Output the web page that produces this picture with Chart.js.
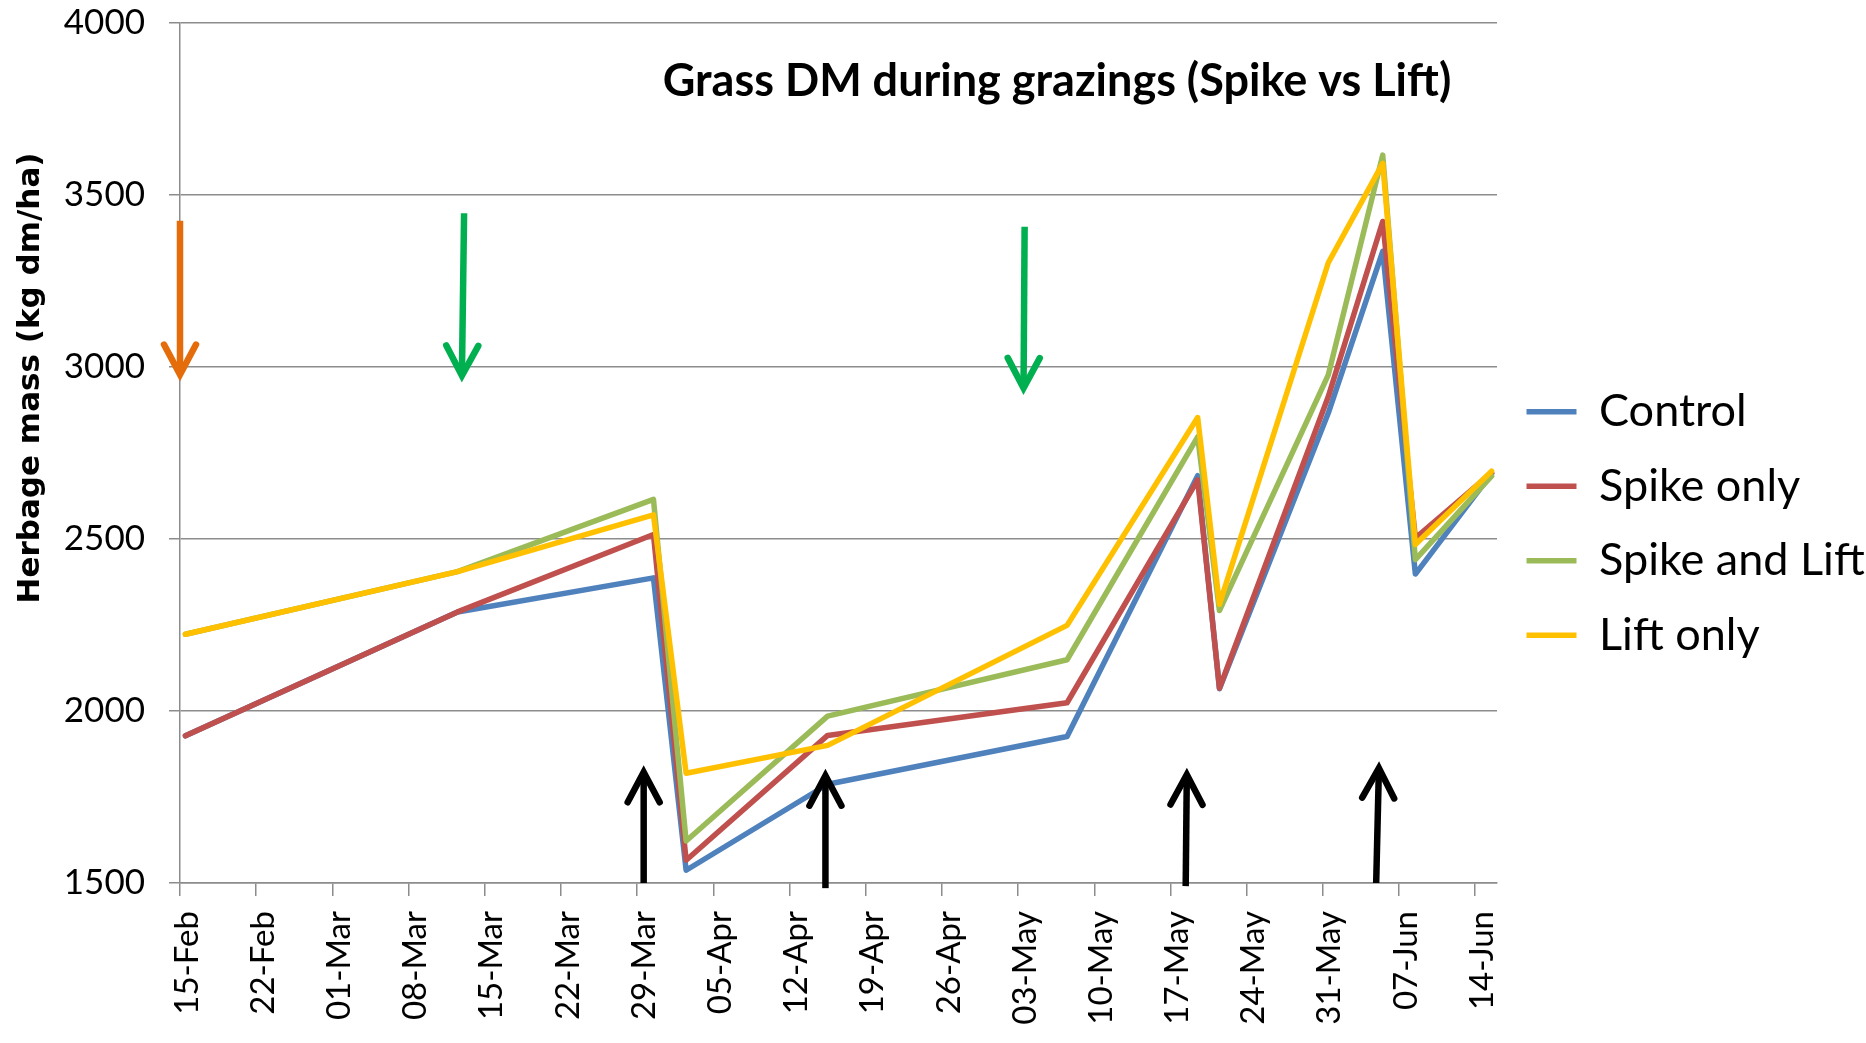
<!DOCTYPE html>
<html>
<head>
<meta charset="utf-8">
<title>Grass DM during grazings (Spike vs Lift)</title>
<script src="https://cdn.jsdelivr.net/npm/chart.js@4.4.1/dist/chart.umd.min.js"></script>
<style>
  html, body { margin: 0; padding: 0; background: #fff; }
  #wrap { width: 1866px; height: 1043px; }
</style>
</head>
<body>
<div id="wrap"><canvas id="grassChart" width="1866" height="1043"></canvas></div>
<script>
// sampling dates (measurement days)
const sampleDates = ['15-Feb', '12-Mar', '30-Mar', '02-Apr', '15-Apr', '07-May',
                     '19-May', '21-May', '31-May', '05-Jun', '08-Jun', '15-Jun'];

// herbage mass, kg dm/ha
const control      = [1928, 2288, 2387, 1537, 1787, 1926, 2684, 2065, 2866, 3336, 2398, 2690];
const spikeOnly    = [1928, 2288, 2513, 1566, 1929, 2024, 2672, 2066, 2914, 3423, 2503, 2692];
const spikeAndLift = [2223, 2405, 2615, 1622, 1985, 2149, 2797, 2292, 2977, 3616, 2440, 2683];
const liftOnly     = [2223, 2405, 2570, 1819, 1900, 2249, 2853, 2310, 3303, 3592, 2484, 2697];

const seriesNames = ['Control', 'Spike only', 'Spike and Lift', 'Lift only'];
const seriesColours = ['#4F81BD', '#C0504D', '#9BBB59', '#FFC000'];

// x axis: weekly ticks from 15-Feb
const tickLabels = ['15-Feb', '22-Feb', '01-Mar', '08-Mar', '15-Mar', '22-Mar', '29-Mar',
                    '05-Apr', '12-Apr', '19-Apr', '26-Apr', '03-May', '10-May', '17-May',
                    '24-May', '31-May', '07-Jun', '14-Jun'];
const yTicks = [1500, 2000, 2500, 3000, 3500, 4000];

// event arrows (days after 15-Feb, kg dm/ha)
const arrowTailDays   = [0, 26.1, 77.6, 42.6, 59.3, 92.4, 109.9];
const arrowTipDays    = [0, 25.9, 77.5, 42.6, 59.3, 92.5, 110.15];
const arrowTailValues = [3425, 3447, 3408, 1500, 1485, 1491, 1500];
const arrowTipValues  = [2978, 2975, 2939, 1822, 1812, 1815, 1834];
const arrowColours    = ['#E46C0A', '#00B050', '#00B050', '#000000', '#000000', '#000000', '#000000'];

const GRID = '#8c8c8c';
const monthStart = { Feb: -15, Mar: 13, Apr: 44, May: 74, Jun: 105 };

// days after 15-Feb, plotted at mid-day like the spreadsheet date axis
function dayPos(label) {
    const [d, m] = label.split('-');
    return monthStart[m] + Number(d) + 0.5;
}

const allSeries = [control, spikeOnly, spikeAndLift, liftOnly];

const datasets = allSeries.map((values, i) => ({
    label: seriesNames[i],
    data: values.map((v, j) => ({ x: dayPos(sampleDates[j]), y: v })),
    borderColor: seriesColours[i],
    backgroundColor: seriesColours[i],
    borderWidth: 5.5,
    borderJoinStyle: 'round',
    borderCapStyle: 'round',
    pointRadius: 0,
    tension: 0,
    order: allSeries.length - i // Lift only ends up on top
}));

// arrows, the in-plot title and the y axis title
const overlayPlugin = {
    id: 'overlay',
    afterDatasetsDraw(chart) {
        const { ctx, chartArea, scales: { x, y } } = chart;
        ctx.save();

        arrowTipDays.forEach((day, i) => {
            const x0 = x.getPixelForValue(arrowTailDays[i]);
            const y0 = y.getPixelForValue(arrowTailValues[i]);
            const x1 = x.getPixelForValue(day);
            const y1 = y.getPixelForValue(arrowTipValues[i]);
            const len = Math.hypot(x1 - x0, y1 - y0);
            const ux = (x1 - x0) / len, uy = (y1 - y0) / len;
            ctx.strokeStyle = arrowColours[i];
            ctx.lineWidth = 6.5;

            ctx.beginPath();
            ctx.lineCap = 'butt';
            ctx.moveTo(x0, y0);
            ctx.lineTo(x1 - ux * 4, y1 - uy * 4);
            ctx.stroke();

            ctx.beginPath();
            ctx.lineCap = 'round';
            ctx.lineJoin = 'miter';
            ctx.moveTo(x1 - ux * 30 - uy * 16, y1 - uy * 30 + ux * 16);
            ctx.lineTo(x1, y1);
            ctx.lineTo(x1 - ux * 30 + uy * 16, y1 - uy * 30 - ux * 16);
            ctx.stroke();
        });

        ctx.fillStyle = '#000';
        ctx.font = 'bold 45px Lato';
        ctx.textAlign = 'center';
        ctx.textBaseline = 'alphabetic';
        ctx.fillText('Grass DM during grazings (Spike vs Lift)', chartArea.right - 440, chartArea.top + 73);

        ctx.translate(31, 378);
        ctx.rotate(-Math.PI / 2);
        ctx.font = 'bold 31px "DejaVu Sans"';
        ctx.textBaseline = 'middle';
        ctx.fillText('Herbage mass (kg dm/ha)', 0, 0);
        ctx.restore();
    }
};

function drawChart() {
    const ctx = document.getElementById('grassChart').getContext('2d');
    new Chart(ctx, {
        type: 'line',
        data: { datasets },
        options: {
            responsive: false,
            animation: false,
            devicePixelRatio: 1,
            layout: { padding: { top: 23, right: 0, bottom: 19, left: 0 } },
            plugins: {
                title: { display: false },
                tooltip: { enabled: false },
                legend: {
                    position: 'right',
                    maxWidth: 369,
                    labels: {
                        boxWidth: 50,
                        boxHeight: 5.5,
                        padding: 29.5,
                        color: '#000',
                        font: { family: 'Lato', size: 45 },
                        sort: (a, b) => a.datasetIndex - b.datasetIndex,
                        generateLabels: chart => Chart.defaults.plugins.legend.labels
                            .generateLabels(chart)
                            .map(item => Object.assign(item, { fillStyle: item.strokeStyle, lineWidth: 0 }))
                    }
                }
            },
            scales: {
                x: {
                    type: 'linear',
                    min: 0,
                    max: 121,
                    afterFit: s => { s.height = 141; s.paddingLeft = 0; s.paddingRight = 0; },
                    afterBuildTicks: s => { s.ticks = tickLabels.map((_, i) => ({ value: i * 7 })); },
                    grid: { drawOnChartArea: false, drawTicks: true, tickLength: 13, color: GRID, lineWidth: 1.5 },
                    border: { display: true, color: GRID, width: 1.5 },
                    ticks: {
                        autoSkip: false,
                        minRotation: 90,
                        maxRotation: 90,
                        padding: 15,
                        labelOffset: 7,
                        color: '#000',
                        font: { family: 'Lato', size: 33 },
                        callback: (value, index) => tickLabels[index]
                    }
                },
                y: {
                    min: yTicks[0],
                    max: yTicks[yTicks.length - 1],
                    afterFit: s => { s.width = 180; s.paddingTop = 0; s.paddingBottom = 0; },
                    grid: { color: GRID, lineWidth: 1.5, tickLength: 11 },
                    border: { color: GRID, width: 1.5 },
                    ticks: {
                        stepSize: yTicks[1] - yTicks[0],
                        padding: 24,
                        color: '#000',
                        font: { family: 'Lato', size: 35 },
                        callback: value => String(value)
                    }
                }
            }
        },
        plugins: [overlayPlugin]
    });
}

Promise.all([
    document.fonts.load('35px Lato'),
    document.fonts.load('bold 45px Lato'),
    document.fonts.load('bold 31px "DejaVu Sans"')
]).then(drawChart, drawChart);
</script>
</body>
</html>
